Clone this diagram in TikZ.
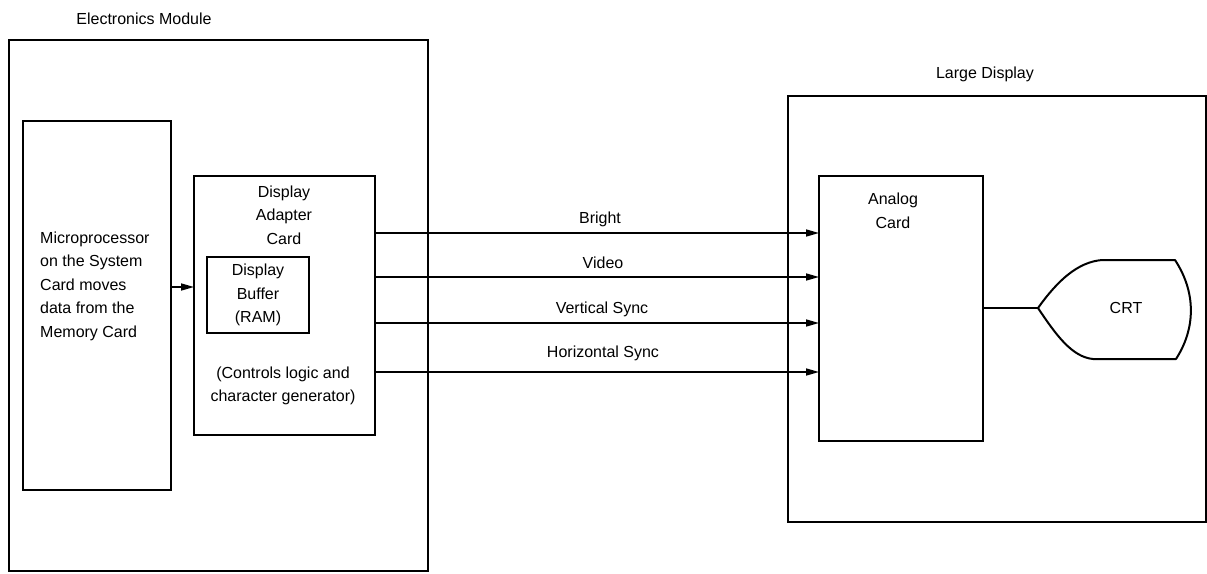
\documentclass[tikz,border=0pt]{standalone}
\usepackage{fontspec}
\setmainfont{Liberation Sans}
\usetikzlibrary{arrows.meta}
\begin{document}
\begin{tikzpicture}[x=1pt,y=-1pt,
  box/.style={draw, line width=2pt, inner sep=0pt, outer sep=0pt, anchor=north west},
  lbl/.style={font=\fontsize{16}{23.5}\selectfont, align=center, inner sep=0pt},
  siglbl/.style={lbl, anchor=base},
  sig/.style={line width=1.6pt, -{Triangle[length=13pt,width=7pt]}}]
\useasboundingbox (0,0) rectangle (1207,573);
% outer boxes
\node[box, minimum width=419pt, minimum height=531pt] (em) at (9,40) {};
\node[lbl] (emt) at (144,19) {Electronics Module};
\node[box, minimum width=418pt, minimum height=426pt] (ld) at (788,96) {};
\node[lbl] (ldt) at (985,74) {Large Display};
% microprocessor
\node[box, minimum width=148pt, minimum height=369pt] (mp) at (23,121) {};
\node[lbl, align=left, anchor=west] (mpt) at (40,286) {Microprocessor\\on the System\\Card moves\\data from the\\Memory Card};
% display adapter
\node[box, minimum width=181pt, minimum height=259pt] (da) at (194,176) {};
\node[lbl] (dat) at (284,215) {Display\\Adapter\\Card};
\node[box, minimum width=102pt, minimum height=76pt] (db) at (207,257) {};
\node[lbl] (dbt) at (258,295) {Display\\Buffer\\(RAM)};
\node[lbl] (dct) at (283,386) {(Controls logic and\\character generator)};
% analog card
\node[box, minimum width=164pt, minimum height=265pt] (ac) at (819,176) {};
\node[lbl] (act) at (893,211) {Analog\\Card};
% CRT
\coordinate (crt) at (1038,308);
\draw[line width=2pt, line join=round] (crt) .. controls (1058,280) and (1078,262) .. (1102,260)
  -- (1175,260) .. controls (1196,292) and (1196,328) .. (1176,359)
  -- (1093,359) .. controls (1072,357) and (1056,335) .. (crt) -- cycle;
\node[lbl] (crtt) at (1126,308) {CRT};
\draw[line width=2pt] (ac.east |- crt) -- (crt);
% arrows
\draw[sig] (mp.east |- 0,287) -- (da.west |- 0,287);
\draw[sig] (da.east |- 0,233) -- (ac.west |- 0,233);
\draw[sig] (da.east |- 0,277) -- (ac.west |- 0,277);
\draw[sig] (da.east |- 0,323) -- (ac.west |- 0,323);
\draw[sig] (da.east |- 0,372) -- (ac.west |- 0,372);
\node[siglbl] (l1) at (600,223) {Bright};
\node[siglbl] (l2) at (603,268) {Video};
\node[siglbl] (l3) at (602,313) {Vertical Sync};
\node[siglbl] (l4) at (603,357) {Horizontal Sync};
\end{tikzpicture}
\end{document}
